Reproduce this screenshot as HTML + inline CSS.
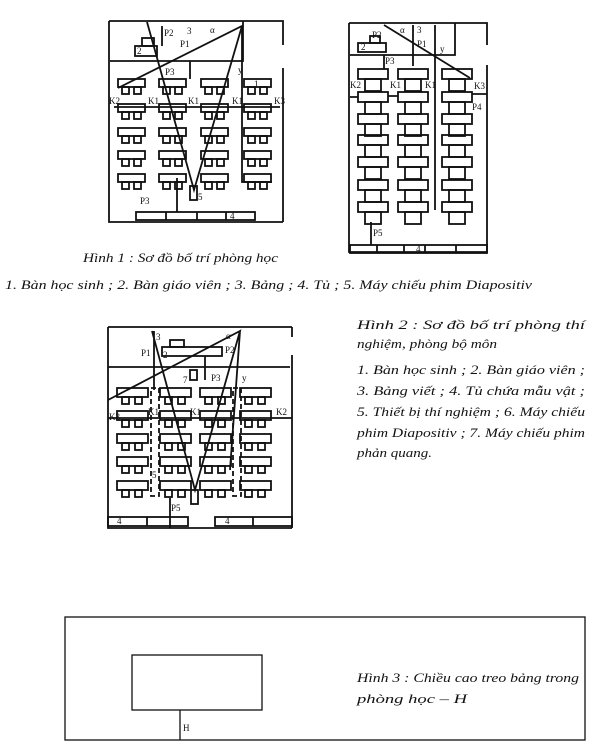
<!DOCTYPE html>
<html><head><meta charset="utf-8"><style>
html,body{margin:0;padding:0;background:#fff;width:600px;height:751px;overflow:hidden}
svg{display:block}
text{font-family:"Liberation Serif",serif;fill:#111}
.i{font-style:italic;font-size:12.5px}
.s{font-family:"Liberation Sans",sans-serif;font-size:9px}
</style></head><body>
<svg width="600" height="751" viewBox="0 0 600 751" xmlns="http://www.w3.org/2000/svg">
<defs>
<g id="d1" fill="none" stroke="#111" stroke-width="1.8"><rect x="0" y="0" width="27" height="8"/><rect x="4" y="8" width="7" height="7"/><rect x="16" y="8" width="7" height="7"/></g>
<g id="d3" fill="none" stroke="#111" stroke-width="1.8"><rect x="0" y="0" width="31" height="9"/><rect x="5" y="9" width="7" height="7"/><rect x="18" y="9" width="7" height="7"/></g>
<g id="d2" fill="none" stroke="#111" stroke-width="1.8"><rect x="0" y="0" width="30" height="10"/><rect x="7" y="10" width="16" height="12"/></g>
</defs>
<g stroke="#111" stroke-width="1.8" fill="none">
<path d="M109 21 H283 V45 M283 68 V222 M109 21 V222 H283"/>
<path d="M110 61 H243 V21"/>
<rect x="136" y="212" width="119" height="8"/>
<path d="M166 212 V220 M197 212 V220 M226 212 V220"/>
<rect x="135" y="46" width="22" height="10"/><rect x="142" y="38" width="12" height="8"/>
<path d="M118 88 L242 26 L194 190 L147 22 M242 26 V182 H272 M190 61 V79 M114 107 H280"/>
<path d="M177 178 V212 M162 26 V46"/>
<rect x="190" y="186" width="7" height="14"/>
<path d="M349 23 H487 V45 M487 65 V240 M349 23 V252 H487 V240"/>
<path d="M350 55 H455 V23"/>
<rect x="358" y="43" width="28" height="9"/><rect x="370" y="36" width="10" height="7"/>
<rect x="350" y="245" width="137" height="8"/>
<path d="M377 245 V253 M404 245 V253 M425 245 V253 M456 245 V253"/>
<path d="M384 25 L470 78 M413 25 V66 M435 25 V210 M384 55 V69 M350 97 H358 M388 96 H398 M472 94 H487 M371 222 V245"/>
<path d="M108 327 H292 M108 327 V528 H292 M292 327 V337 M292 355 V528"/>
<path d="M108 367 H290"/>
<rect x="162" y="347" width="60" height="9"/><rect x="170" y="340" width="14" height="7"/>
<path d="M108 400 L240 331 L195 490 L152 331 M240 331 L230 470 M154 331 V390 M108 418 H292 M205 356 V380 M170 498 V528"/>
<rect x="191" y="490" width="7" height="14"/><rect x="190" y="370" width="7" height="10"/>
<rect x="108" y="517" width="80" height="9"/><rect x="215" y="517" width="77" height="9"/>
<path d="M147 517 V526 M253 517 V526"/>
<rect x="151" y="388" width="8" height="108" stroke-dasharray="5,3"/><rect x="233" y="388" width="8" height="108" stroke-dasharray="5,3"/>
<rect x="65" y="617" width="520" height="123" stroke-width="1.3"/>
<rect x="132" y="655" width="130" height="55" stroke-width="1.3"/>
<path d="M180 710 V740" stroke-width="1.3"/>
</g>
<g>
<use href="#d1" x="118" y="79"/><use href="#d1" x="159" y="79"/><use href="#d1" x="201" y="79"/><use href="#d1" x="244" y="79"/>
<use href="#d1" x="118" y="104"/><use href="#d1" x="159" y="104"/><use href="#d1" x="201" y="104"/><use href="#d1" x="244" y="104"/>
<use href="#d1" x="118" y="128"/><use href="#d1" x="159" y="128"/><use href="#d1" x="201" y="128"/><use href="#d1" x="244" y="128"/>
<use href="#d1" x="118" y="151"/><use href="#d1" x="159" y="151"/><use href="#d1" x="201" y="151"/><use href="#d1" x="244" y="151"/>
<use href="#d1" x="118" y="174"/><use href="#d1" x="159" y="174"/><use href="#d1" x="201" y="174"/><use href="#d1" x="244" y="174"/>
</g>
<g>
<use href="#d2" x="358" y="69"/><use href="#d2" x="398" y="69"/><use href="#d2" x="442" y="69"/>
<use href="#d2" x="358" y="92"/><use href="#d2" x="398" y="92"/><use href="#d2" x="442" y="92"/>
<use href="#d2" x="358" y="114"/><use href="#d2" x="398" y="114"/><use href="#d2" x="442" y="114"/>
<use href="#d2" x="358" y="135"/><use href="#d2" x="398" y="135"/><use href="#d2" x="442" y="135"/>
<use href="#d2" x="358" y="157"/><use href="#d2" x="398" y="157"/><use href="#d2" x="442" y="157"/>
<use href="#d2" x="358" y="180"/><use href="#d2" x="398" y="180"/><use href="#d2" x="442" y="180"/>
<use href="#d2" x="358" y="202"/><use href="#d2" x="398" y="202"/><use href="#d2" x="442" y="202"/>
</g>
<g>
<use href="#d3" x="117" y="388"/><use href="#d3" x="160" y="388"/><use href="#d3" x="200" y="388"/><use href="#d3" x="240" y="388"/>
<use href="#d3" x="117" y="411"/><use href="#d3" x="160" y="411"/><use href="#d3" x="200" y="411"/><use href="#d3" x="240" y="411"/>
<use href="#d3" x="117" y="434"/><use href="#d3" x="160" y="434"/><use href="#d3" x="200" y="434"/><use href="#d3" x="240" y="434"/>
<use href="#d3" x="117" y="457"/><use href="#d3" x="160" y="457"/><use href="#d3" x="200" y="457"/><use href="#d3" x="240" y="457"/>
<use href="#d3" x="117" y="481"/><use href="#d3" x="160" y="481"/><use href="#d3" x="200" y="481"/><use href="#d3" x="240" y="481"/>
</g>
<g class="s">
<text x="137" y="54">2</text><text x="164" y="36">P2</text><text x="187" y="34">3</text><text x="180" y="47">P1</text><text x="210" y="33">α</text><text x="165" y="75">P3</text><text x="238" y="73">y</text><text x="254" y="87">1</text>
<text x="109" y="104">K2</text><text x="148" y="104">K1</text><text x="188" y="104">K1</text><text x="232" y="104">K1</text><text x="274" y="104">K3</text>
<text x="198" y="200">5</text><text x="140" y="204">P3</text><text x="230" y="219">4</text>
<text x="361" y="50">2</text><text x="372" y="38">P2</text><text x="400" y="33">α</text><text x="417" y="33">3</text><text x="417" y="47">P1</text><text x="440" y="52">y</text><text x="385" y="64">P3</text>
<text x="350" y="88">K2</text><text x="390" y="88">K1</text><text x="425" y="88">K1</text><text x="474" y="89">K3</text><text x="472" y="110">P4</text><text x="373" y="236">P5</text><text x="416" y="252">4</text>
<text x="156" y="340">3</text><text x="141" y="356">P1</text><text x="163" y="358">2</text><text x="226" y="339">α</text><text x="225" y="353">P2</text><text x="183" y="383">7</text><text x="211" y="381">P3</text><text x="242" y="381">y</text>
<text x="109" y="420">K3</text><text x="148" y="415">K1</text><text x="190" y="415">K1</text><text x="276" y="415">K2</text><text x="152" y="478">5</text><text x="171" y="511">P5</text><text x="117" y="524">4</text><text x="225" y="524">4</text>
<text x="183" y="731">H</text>
</g>
<g class="i">
<text x="83" y="262" textLength="195" lengthAdjust="spacingAndGlyphs">Hình 1 : Sơ đồ bố trí phòng học</text>
<text x="5" y="289" textLength="527" lengthAdjust="spacingAndGlyphs">1. Bàn học sinh ; 2. Bàn giáo viên ; 3. Bảng ; 4. Tủ ; 5. Máy chiếu phim Diapositiv</text>
<text x="357" y="329" textLength="228" lengthAdjust="spacingAndGlyphs">Hình 2 : Sơ đồ bố trí phòng thí</text>
<text x="357" y="348" textLength="140" lengthAdjust="spacingAndGlyphs">nghiệm, phòng bộ môn</text>
<text x="357" y="374" textLength="228" lengthAdjust="spacingAndGlyphs">1. Bàn học sinh ; 2. Bàn giáo viên ;</text>
<text x="357" y="395" textLength="228" lengthAdjust="spacingAndGlyphs">3. Bảng viết ; 4. Tủ chứa mẫu vật ;</text>
<text x="357" y="416" textLength="228" lengthAdjust="spacingAndGlyphs">5. Thiết bị thí nghiệm ; 6. Máy chiếu</text>
<text x="357" y="437" textLength="228" lengthAdjust="spacingAndGlyphs">phim Diapositiv ; 7. Máy chiếu phim</text>
<text x="357" y="457" textLength="75" lengthAdjust="spacingAndGlyphs">phản quang.</text>
<text x="357" y="682" textLength="222" lengthAdjust="spacingAndGlyphs">Hình 3 : Chiều cao treo bảng trong</text>
<text x="357" y="703" textLength="110" lengthAdjust="spacingAndGlyphs">phòng học – H</text>
</g>
</svg>
</body></html>
